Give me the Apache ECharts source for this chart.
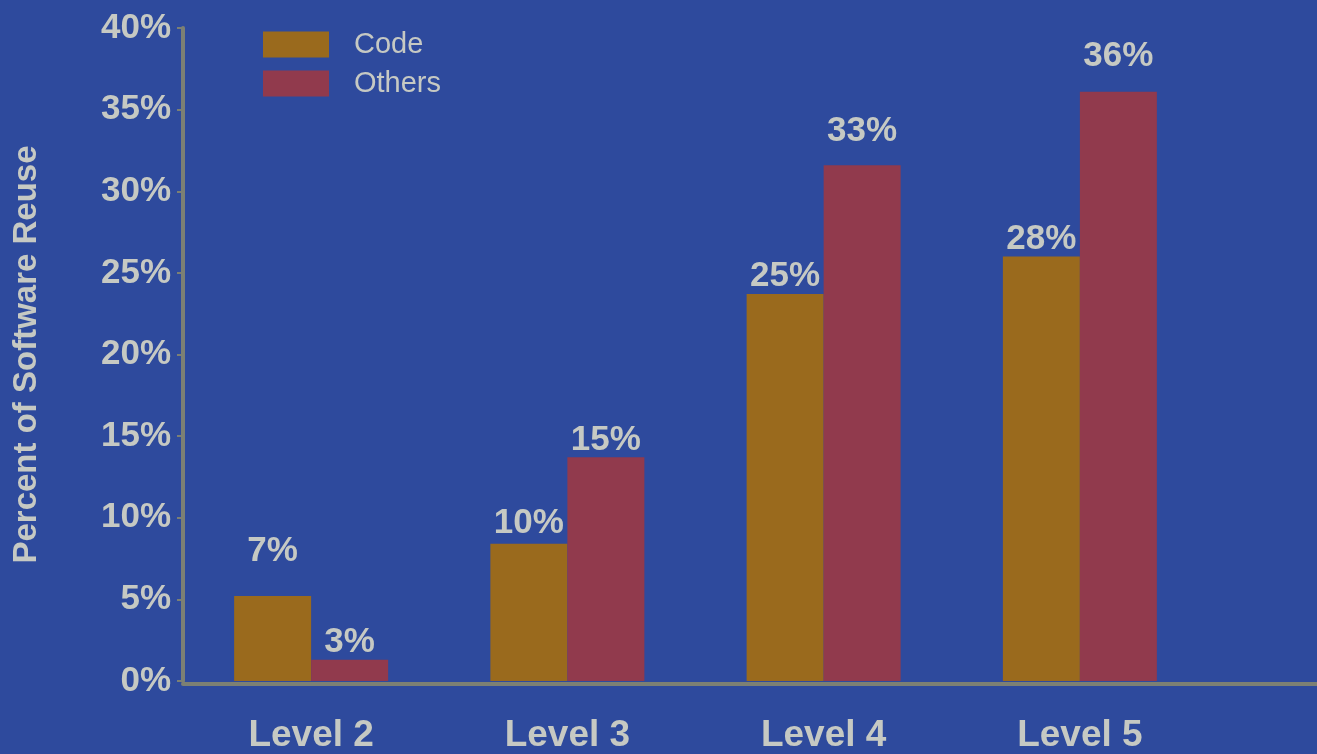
<!DOCTYPE html>
<html>
<head>
<meta charset="utf-8">
<script src="https://cdn.jsdelivr.net/npm/echarts@6/dist/echarts.min.js"></script>
<style>
html,body{margin:0;padding:0;background:#2e4a9d;}
#chart{width:1317px;height:754px;}
</style>
</head>
<body>
<div id="chart"></div>
<script>
// ---- data ----
const categories = ['Level 2', 'Level 3', 'Level 4', 'Level 5'];
const seriesNames = ['Code', 'Others'];
const codeValues = [5.2, 8.4, 23.7, 26.0];      // bar heights as drawn (%)
const othersValues = [1.3, 13.7, 31.6, 36.1];   // bar heights as drawn (%)
const codeLabels = ['7%', '10%', '25%', '28%'];
const othersLabels = ['3%', '15%', '33%', '36%'];
const yTicks = { min: 0, max: 40, step: 5 };

// ---- styles ----
const textColor = '#c6c9c3';
const axisColor = '#7c8074';
const codeColor = '#9a6a1d';
const othersColor = '#913a4d';
const codeLift = [27, 3, 0, 0];
const othersLift = [0, 0, 16, 18];
const font = '"Liberation Sans", Arial, sans-serif';

function buildData(values, labels, lift) {
  return values.map((v, i) => ({
    value: v,
    label: { formatter: labels[i], distance: lift[i] }
  }));
}

const chart = echarts.init(document.getElementById('chart'));
chart.setOption({
  backgroundColor: '#2e4a9d',
  animation: false,
  textStyle: { fontFamily: font },
  legend: {
    orient: 'vertical',
    left: 258, top: 25,
    itemWidth: 66, itemHeight: 26, itemGap: 10,
    icon: 'rect',
    data: seriesNames,
    textStyle: { color: textColor, fontSize: 29, fontFamily: font, padding: [0, 0, 0, 20] }
  },
  grid: [
    { left: 183, width: 1025, top: 28, bottom: 70 },
    { left: 183, right: 0, top: 28, bottom: 70 }
  ],
  xAxis: [
    {
      type: 'category', gridIndex: 0, data: categories,
      axisLine: { show: false },
      axisTick: { show: false },
      axisLabel: { color: textColor, fontSize: 37, fontWeight: 'bold', fontFamily: font, margin: 36 }
    },
    {
      type: 'value', gridIndex: 1, min: 0, max: 1,
      axisLine: { show: true, lineStyle: { color: axisColor, width: 4 } },
      axisTick: { show: false }, axisLabel: { show: false }, splitLine: { show: false }
    }
  ],
  yAxis: [
    {
      type: 'value', gridIndex: 0,
      min: yTicks.min, max: yTicks.max, interval: yTicks.step,
      name: 'Percent of Software Reuse',
      nameLocation: 'middle', nameGap: 140,
      nameTextStyle: { color: textColor, fontSize: 33, fontWeight: 'bold', fontFamily: font },
      axisLine: { show: true, lineStyle: { color: axisColor, width: 4 } },
      axisTick: { show: true, length: 6, lineStyle: { color: axisColor, width: 2 } },
      splitLine: { show: false },
      axisLabel: { color: textColor, fontSize: 35, fontWeight: 'bold', fontFamily: font, margin: 12, formatter: '{value}%' }
    },
    { type: 'value', gridIndex: 1, show: false, min: 0, max: 1 }
  ],
  series: [
    {
      name: 'Code', type: 'bar', xAxisIndex: 0, yAxisIndex: 0,
      barWidth: 77, barGap: '0%',
      itemStyle: { color: codeColor },
      label: { show: true, position: 'top', color: textColor, fontSize: 35, fontWeight: 'bold', fontFamily: font },
      data: buildData(codeValues, codeLabels, codeLift)
    },
    {
      name: 'Others', type: 'bar', xAxisIndex: 0, yAxisIndex: 0,
      barWidth: 77, barGap: '0%',
      itemStyle: { color: othersColor },
      label: { show: true, position: 'top', color: textColor, fontSize: 35, fontWeight: 'bold', fontFamily: font },
      data: buildData(othersValues, othersLabels, othersLift)
    }
  ]
});
</script>
</body>
</html>
